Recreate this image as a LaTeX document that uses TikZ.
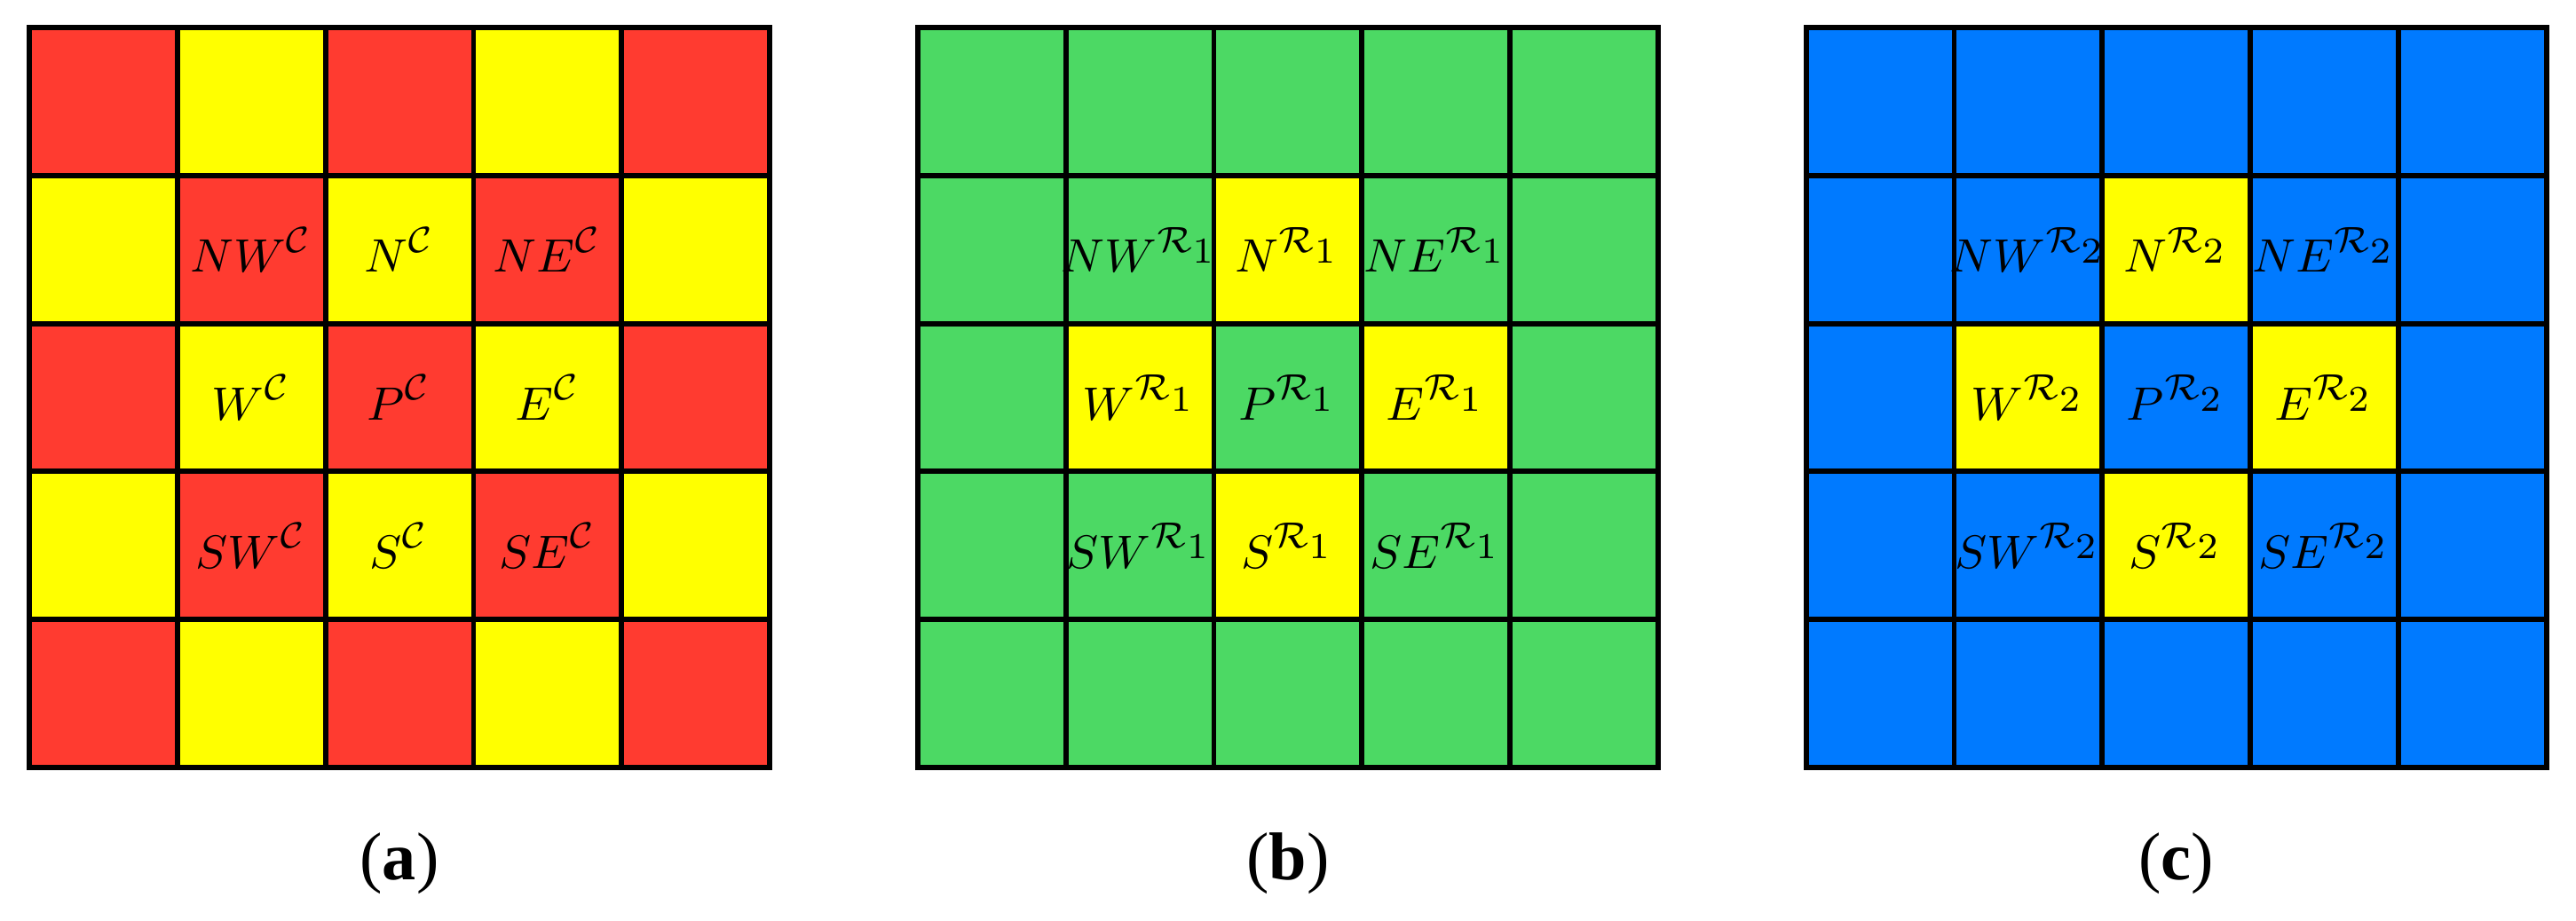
\documentclass[tikz,border=0pt]{standalone}
\usepackage{fontspec}
\newfontfamily\capfont{Liberation Serif}
\definecolor{cellred}{HTML}{FF3B30}
\definecolor{cellyellow}{HTML}{FFFF00}
\definecolor{cellgreen}{HTML}{4CD964}
\definecolor{cellblue}{HTML}{007AFF}
\begin{document}
\begin{tikzpicture}[
    gridline/.style={line width=1pt},
    lab/.style={font=\fontsize{9.5}{11}\selectfont, inner sep=0pt},
    captext/.style={font=\fontsize{13}{15}\selectfont\capfont, inner sep=0pt}
]
\useasboundingbox (-0.198,-1.031) rectangle (17.2,5.186);

% (a) checkerboard of the C stencil
\fill[cellred] (0,0) rectangle (5,5);
\foreach \i in {0,...,4}
    \foreach \j in {0,...,4}{
        \pgfmathtruncatemacro{\odd}{mod(\i+\j,2)}
        \ifnum\odd=1 \fill[cellyellow] (\i,\j) rectangle ++(1,1); \fi
    }
\draw[gridline] (0,0) grid (5,5);
\draw[gridline] (0,0) rectangle (5,5);

\foreach \name/\x/\y in {NW/1.5/3.5, N/2.5/3.5, NE/3.5/3.5, W/1.5/2.5, P/2.5/2.5, E/3.5/2.5, SW/1.5/1.5, S/2.5/1.5, SE/3.5/1.5}
    \node[lab] (a\name) at (\x,\y) {$\name^{\mathcal{C}}$};

% (b) R_1 stencil
\fill[cellgreen] (6,0) rectangle (11,5);
\fill[cellyellow] (8,3) rectangle (9,4);
\fill[cellyellow] (7,2) rectangle (8,3);
\fill[cellyellow] (9,2) rectangle (10,3);
\fill[cellyellow] (8,1) rectangle (9,2);
\draw[gridline] (6,0) grid (11,5);
\draw[gridline] (6,0) rectangle (11,5);

\foreach \name/\x/\y in {NW/7.5/3.5, N/8.5/3.5, NE/9.5/3.5, W/7.5/2.5, P/8.5/2.5, E/9.5/2.5, SW/7.5/1.5, S/8.5/1.5, SE/9.5/1.5}
    \node[lab] (b\name) at (\x,\y) {$\name^{\mathcal{R}_{\scriptstyle 1}}$};

% (c) R_2 stencil
\fill[cellblue] (12,0) rectangle (17,5);
\fill[cellyellow] (14,3) rectangle (15,4);
\fill[cellyellow] (13,2) rectangle (14,3);
\fill[cellyellow] (15,2) rectangle (16,3);
\fill[cellyellow] (14,1) rectangle (15,2);
\draw[gridline] (12,0) grid (17,5);
\draw[gridline] (12,0) rectangle (17,5);

\foreach \name/\x/\y in {NW/13.5/3.5, N/14.5/3.5, NE/15.5/3.5, W/13.5/2.5, P/14.5/2.5, E/15.5/2.5, SW/13.5/1.5, S/14.5/1.5, SE/15.5/1.5}
    \node[lab] (c\name) at (\x,\y) {$\name^{\mathcal{R}_{\scriptstyle 2}}$};

% captions
\node[captext] (capa) at (2.5,-0.647) {(\textbf{a})};
\node[captext] (capb) at (8.5,-0.647) {(\textbf{b})};
\node[captext] (capc) at (14.5,-0.647) {(\textbf{c})};
\end{tikzpicture}
\end{document}
